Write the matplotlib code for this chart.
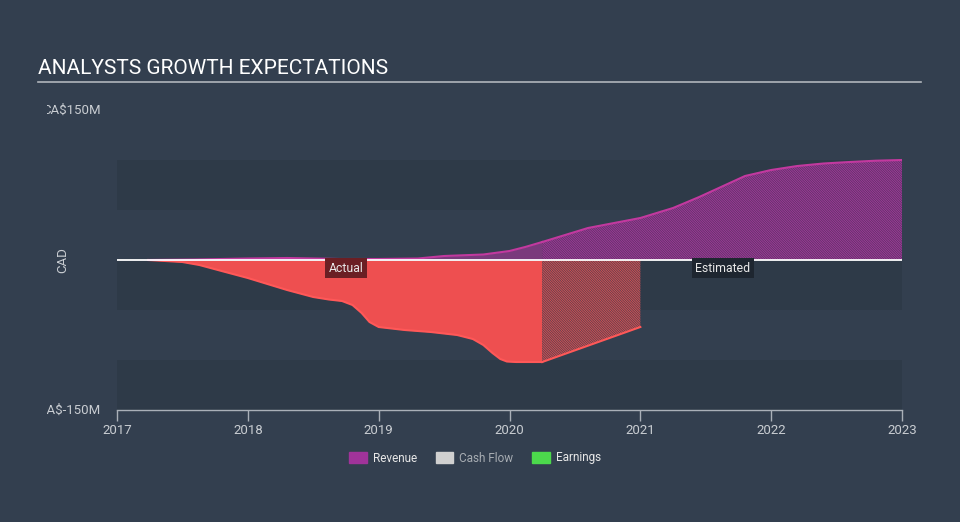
import matplotlib
matplotlib.use("Agg")
import matplotlib.pyplot as plt
from matplotlib.patches import Patch
from matplotlib.transforms import Bbox

plt.rcParams['font.family'] = ['Roboto', 'DejaVu Sans']
plt.rcParams['hatch.linewidth'] = 0.7

# -------------------------
# Data (CA$ millions)
# -------------------------

rev_actual_x = [2017.24, 2017.6, 2018.0, 2018.3, 2018.7, 2019.0, 2019.3, 2019.5, 2019.8, 2020.0, 2020.12, 2020.25]
rev_actual_y = [0, 0.5, 1.5, 2, 1, 1, 1.5, 4, 5.5, 9, 13, 18]

rev_est_x = [2020.25, 2020.6, 2021.0, 2021.25, 2021.45, 2021.65, 2021.8, 2022.0, 2022.2, 2022.4, 2022.6, 2022.8, 2023.0]
rev_est_y = [18, 32, 42, 52, 63, 75, 84, 90, 94, 96.5, 98, 99.3, 100]

earn_actual_x = [2017.24, 2017.5, 2017.63, 2017.8, 2018.0, 2018.3, 2018.5, 2018.62, 2018.72,
                 2018.8, 2018.87, 2018.93, 2019.0, 2019.2, 2019.4, 2019.6, 2019.72, 2019.8,
                 2019.87, 2019.93, 2019.98, 2020.05, 2020.25]
earn_actual_y = [0, -2, -5, -11, -18, -30, -37, -39.5, -41, -45, -53, -62, -67, -70, -72, -75,
                 -79, -85, -93, -99, -101.5, -102, -102]

earn_est_x = [2020.25, 2021.0]
earn_est_y = [-102, -67]

years = [2017, 2018, 2019, 2020, 2021, 2022, 2023]
y_ticks = [150, -150]
y_tick_labels = ["CA$150M", "CA$-150M"]

# -------------------------
# Style
# -------------------------

bg = "#333f4f"
band = "#2e3a48"
text_col = "#c9cdd2"
rev_line = "#c2399f"
rev_fill = "#7a3a7c"
rev_hatch = "#a0359a"
earn_fill = "#ee4f50"
earn_line = "#ff5858"
earn_hatch = "#d64e52"

W, H = 960, 522
fig = plt.figure(figsize=(W / 100, H / 100), dpi=100, facecolor=bg)
ax = fig.add_axes([117 / W, (H - 410) / H, (902 - 117) / W, 300 / H])
ax.set_facecolor(bg)
ax.set_xlim(2017, 2023)
ax.set_ylim(-150, 150)

# alternating bands
for lo, hi in [(50, 100), (-50, 0), (-150, -100)]:
    ax.axhspan(lo, hi, color=band, lw=0, zorder=0)

# earnings
ax.fill_between(earn_actual_x, earn_actual_y, 0, color=earn_fill, lw=0, zorder=2)
ax.plot(earn_actual_x, earn_actual_y, color=earn_line, lw=1.5, zorder=3)
ax.fill_between(earn_est_x, earn_est_y, 0, facecolor="#4a4250", edgecolor=earn_hatch,
                hatch="\\" * 14, lw=0, zorder=2)
ax.plot(earn_est_x, earn_est_y, color=earn_line, lw=1.5, zorder=3)

# revenue
ax.fill_between(rev_actual_x, rev_actual_y, 0, color=rev_fill, lw=0, zorder=2)
ax.plot(rev_actual_x, rev_actual_y, color=rev_line, lw=1.5, zorder=3)
ax.fill_between(rev_est_x, rev_est_y, 0, facecolor="#56385f", edgecolor=rev_hatch,
                hatch="\\" * 14, lw=0, zorder=2)
ax.plot(rev_est_x, rev_est_y, color=rev_line, lw=1.5, zorder=3)

ax.axhline(0, color="white", lw=1.3, zorder=4)

# axes styling
for s in ["top", "right", "left"]:
    ax.spines[s].set_visible(False)
ax.spines["bottom"].set_color("#aab0b8")
ax.spines["bottom"].set_linewidth(1)
ax.set_xticks(years)
ax.set_xticklabels([str(y) for y in years])
ax.tick_params(axis="x", colors="#aab0b8", length=8, width=1, labelcolor=text_col,
               labelsize=9.5, pad=2)
ax.set_yticks([])

# y labels, clipped at the left like the original
clip = Bbox.from_extents(47, 0, W, H)
for v, lab in zip(y_ticks, y_tick_labels):
    t = ax.text(-0.021, v, lab, transform=ax.get_yaxis_transform(), ha="right", va="center",
                color=text_col, fontsize=9.5)
    t.set_clip_on(True)
    t.set_clip_box(clip)

fig.text(63 / W, 1 - 260 / H, "CAD", rotation=90, ha="center", va="center",
         color=text_col, fontsize=9.5)

# actual / estimated tags
ax.text(2018.75, -8, "Actual", ha="center", va="center", color="#e8e8e8", fontsize=8.8,
        zorder=6, bbox=dict(boxstyle="square,pad=0.28", fc="#6b1f24", ec="none"))
ax.text(2021.63, -8, "Estimated", ha="center", va="center", color="#e8e8e8", fontsize=8.8,
        zorder=6, bbox=dict(boxstyle="square,pad=0.28", fc="#1e2630", ec="none"))

# title
fig.text(38 / W, 1 - 69 / H, "ANALYSTS GROWTH EXPECTATIONS", ha="left", va="center",
         color="white", fontsize=15)
fig.add_artist(plt.Line2D([38 / W, 921 / W], [1 - 81.5 / H, 1 - 81.5 / H],
                          color="#b0b5bc", lw=1.2))

# legend
handles = [Patch(color="#a0339a", label="Revenue"),
           Patch(color="#d0d0d0", label="Cash Flow"),
           Patch(color="#4cd94c", label="Earnings")]
leg = fig.legend(handles=handles, loc="center", bbox_to_anchor=(475 / W, 1 - 458 / H),
                 ncol=3, frameon=False, fontsize=8.5, handlelength=1.5, handleheight=1.0,
                 handletextpad=0.5, columnspacing=1.6)
for t, c in zip(leg.get_texts(), ["#e8e8e8", "#a8adb3", "#e8e8e8"]):
    t.set_color(c)

fig.savefig("out.png", dpi=100, facecolor=bg)
